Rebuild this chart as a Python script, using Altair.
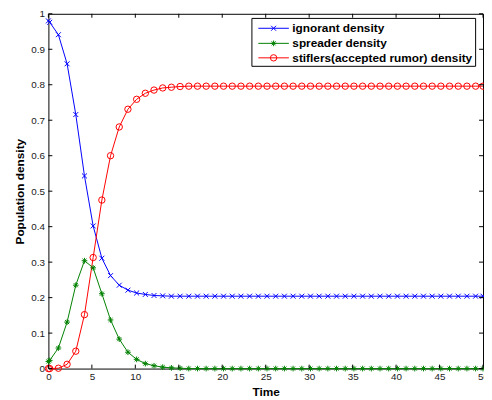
import altair as alt
import pandas as pd

# ---------------- data ----------------
time = [0, 0.15, 1.15, 2.15, 3.15, 4.15, 5.15, 6.15, 7.15, 8.15, 9.15,
        10.15, 11.15, 12.15, 13.15, 14.15, 15.15, 16.15, 17.15, 18.15, 19.15,
        20.15, 21.15, 22.15, 23.15, 24.15, 25.15, 26.15, 27.15, 28.15, 29.15,
        30.15, 31.15, 32.15, 33.15, 34.15, 35.15, 36.15, 37.15, 38.15, 39.15,
        40.15, 41.15, 42.15, 43.15, 44.15, 45.15, 46.15, 47.15, 48.15, 49.15,
        50]

ignorant = [0.980, 0.976, 0.941, 0.859, 0.716, 0.543, 0.402, 0.311, 0.262, 0.235,
            0.221, 0.213, 0.209, 0.206, 0.205,
            0.204, 0.204, 0.204, 0.204, 0.204, 0.204, 0.204, 0.204, 0.204, 0.204,
            0.204, 0.204, 0.204, 0.204, 0.204, 0.204, 0.204, 0.204, 0.204, 0.204,
            0.204, 0.204, 0.204, 0.204, 0.204, 0.204, 0.204, 0.204, 0.204, 0.204,
            0.204, 0.204, 0.204, 0.204, 0.204, 0.204, 0.204]

spreader = [0.020, 0.023, 0.058, 0.131, 0.235, 0.304, 0.284, 0.211, 0.137, 0.083,
            0.046, 0.026, 0.014, 0.008, 0.004, 0.002, 0.001,
            0.0, 0.0, 0.0, 0.0, 0.0, 0.0, 0.0, 0.0, 0.0, 0.0,
            0.0, 0.0, 0.0, 0.0, 0.0, 0.0, 0.0, 0.0, 0.0, 0.0,
            0.0, 0.0, 0.0, 0.0, 0.0, 0.0, 0.0, 0.0, 0.0, 0.0,
            0.0, 0.0, 0.0, 0.0, 0.0]

stiflers = [0.000, 0.000, 0.001, 0.012, 0.049, 0.152, 0.313, 0.475, 0.600, 0.681,
            0.731, 0.759, 0.776, 0.785, 0.791, 0.793, 0.795,
            0.796, 0.796, 0.796, 0.796, 0.796, 0.796, 0.796, 0.796, 0.796, 0.796,
            0.796, 0.796, 0.796, 0.796, 0.796, 0.796, 0.796, 0.796, 0.796, 0.796,
            0.796, 0.796, 0.796, 0.796, 0.796, 0.796, 0.796, 0.796, 0.796, 0.796,
            0.796, 0.796, 0.796, 0.796, 0.796]

series_names = ["ignorant density", "spreader density",
                "stiflers(accepted rumor) density"]
x_ticks = [0, 5, 10, 15, 20, 25, 30, 35, 40, 45, 50]
y_ticks = [0, 0.1, 0.2, 0.3, 0.4, 0.5, 0.6, 0.7, 0.8, 0.9, 1.0]

assert len(time) == len(ignorant) == len(spreader) == len(stiflers)

# ---------------- tables ----------------
rows = []
for name, vals in zip(series_names, [ignorant, spreader, stiflers]):
    for t, v in zip(time, vals):
        rows.append({"t": t, "value": v, "series": name})
df = pd.DataFrame(rows)
legend_df = pd.DataFrame({"series": series_names})
xt_df = pd.DataFrame({"v": x_ticks})
yt_df = pd.DataFrame({"v": y_ticks})

# ---------------- styling ----------------
W, H = 441, 360
FONT = "Liberation Sans"
colors = ["#0000ff", "#008000", "#ff0000"]
X_PATH = "M-1,-1L1,1M-1,1L1,-1"
STAR_PATH = "M-1,0L1,0M0,-1L0,1M-0.7,-0.7L0.7,0.7M-0.7,0.7L0.7,-0.7"
shapes = [X_PATH, STAR_PATH, "circle"]
sizes = [25, 42, 62]

xs = alt.Scale(domain=[0, 50], nice=False, zero=False)
ys = alt.Scale(domain=[0, 1], nice=False, zero=False)
cs = alt.Scale(domain=series_names, range=colors)
ss = alt.Scale(domain=series_names, range=shapes)
zs = alt.Scale(domain=series_names, range=sizes)

X_AXIS = alt.Axis(values=x_ticks, title="Time", labelPadding=3, titleY=27)
Y_AXIS = alt.Axis(values=y_ticks, title="Population density", format=".1~f",
                  labelPadding=4, titleX=-25, titleY=H / 2)

def X(field):
    return alt.X(field, scale=xs, axis=X_AXIS)

def Y(field):
    return alt.Y(field, scale=ys, axis=Y_AXIS)

base = alt.Chart(df)

lines = base.mark_line(strokeWidth=1).encode(
    x=X("t:Q"), y=Y("value:Q"),
    color=alt.Color("series:N", scale=cs, legend=None),
    detail="series:N",
)

points = base.mark_point(filled=False, strokeWidth=1, opacity=1).encode(
    x=X("t:Q"), y=Y("value:Q"),
    color=alt.Color("series:N", scale=cs, legend=None),
    shape=alt.Shape("series:N", scale=ss, legend=None),
    size=alt.Size("series:N", scale=zs, legend=None),
)

tick_len = 4
xt_bottom = alt.Chart(xt_df).mark_rule(color="black", strokeWidth=1).encode(
    x=X("v:Q"), y=alt.value(H), y2=alt.value(H - tick_len))
xt_top = alt.Chart(xt_df).mark_rule(color="black", strokeWidth=1).encode(
    x=X("v:Q"), y=alt.value(0), y2=alt.value(tick_len))
yt_left = alt.Chart(yt_df).mark_rule(color="black", strokeWidth=1).encode(
    y=Y("v:Q"), x=alt.value(0), x2=alt.value(tick_len))
yt_right = alt.Chart(yt_df).mark_rule(color="black", strokeWidth=1).encode(
    y=Y("v:Q"), x=alt.value(W), x2=alt.value(W - tick_len))

# ---------------- legend (drawn by hand, MATLAB style) ----------------
leg_box = alt.Chart(pd.DataFrame({"a": [0]})).mark_rect(
    fill="white", stroke="black", strokeWidth=1).encode(
    x=alt.value(206.5), x2=alt.value(433.5), y=alt.value(4.7), y2=alt.value(53.3))

legend_layers = [leg_box]
row_y = [14.7, 30.0, 44.7]
for name, ry in zip(series_names, row_y):
    src = alt.Chart(legend_df).transform_filter(alt.datum.series == name)
    legend_layers.append(src.mark_rule(strokeWidth=1).encode(
        x=alt.value(213), x2=alt.value(244), y=alt.value(ry),
        color=alt.Color("series:N", scale=cs, legend=None)))
    legend_layers.append(src.mark_point(filled=False, strokeWidth=1, opacity=1).encode(
        x=alt.value(228.5), y=alt.value(ry),
        color=alt.Color("series:N", scale=cs, legend=None),
        shape=alt.Shape("series:N", scale=ss, legend=None),
        size=alt.Size("series:N", scale=zs, legend=None)))
    legend_layers.append(src.mark_text(
        align="left", baseline="middle", font=FONT, fontSize=12, fontWeight="bold",
        color="black").encode(x=alt.value(247.5), y=alt.value(ry), text="series:N"))

chart = alt.layer(lines, points, xt_bottom, xt_top, yt_left, yt_right,
                  *legend_layers).properties(
    width=W, height=H,
    autosize=alt.AutoSizeParams(type="none"),
    padding={"left": 41, "top": 3, "right": 1, "bottom": 28},
).configure_view(stroke="black", strokeWidth=1).configure_axis(
    ticks=False, domain=False, grid=False,
    labelFont=FONT, labelFontSize=10, labelColor="#1a1a1a",
    labelFlush=False, labelOverlap=False,
    titleFont=FONT, titleFontSize=12, titleFontWeight="bold", titleColor="#000000",
).configure_axisX(titleX=W / 2, titleBaseline="alphabetic", titleAlign="center"
).configure_axisY(titleAngle=270, titleBaseline="alphabetic", titleAlign="center")

chart.save("out.html", embed_options={"renderer": "svg", "actions": False})
